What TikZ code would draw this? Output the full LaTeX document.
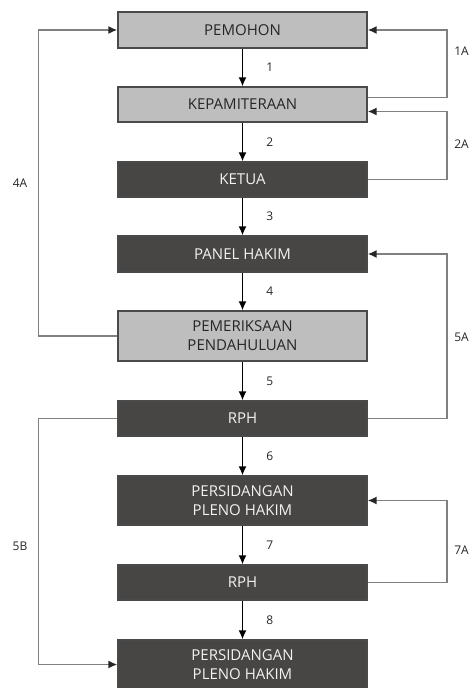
\documentclass[tikz,border=0pt]{standalone}
\usepackage{fontspec}
\setmainfont{Open Sans}
\usepackage{xcolor}
\usetikzlibrary{arrows.meta,positioning}
\definecolor{boxlight}{HTML}{BEBEBE}
\definecolor{boxdark}{HTML}{484545}
\definecolor{boxedge}{HTML}{4A4A4A}
\definecolor{backline}{HTML}{808080}
\tikzset{
    stage/.style={draw=boxedge, line width=1.2pt, minimum width=249pt, align=center,
        inner sep=0pt, font=\fontsize{15}{19}\selectfont},
    light/.style={stage, fill=boxlight, text=black!85},
    dark/.style={stage, fill=boxdark, text=white!95!black},
    flow/.style={-{Latex[length=9pt,width=8pt]}, line width=1.6pt, black},
    back/.style={-{Latex[length=9pt,width=8pt,color=black!85]}, line width=1.8pt, backline},
    num/.style={right=23pt, inner sep=0pt, font=\fontsize{12}{14}\selectfont, text=black!85},
    tag/.style={inner sep=0pt, font=\fontsize{12}{14}\selectfont, text=black!85}
}
\begin{document}
\begin{tikzpicture}[x=1pt, y=-1pt]
                    \useasboundingbox (0,0) rectangle (470,688);

                    \node[light, minimum height=36pt] (pemohon) at (242.5, 30) {PEMOHON};
                    \node[light, minimum height=35pt] (kepan) at (242.5, 104.5) {KEPAMITERAAN};
                    \node[dark, minimum height=35pt] (ketua) at (242.5, 179.5) {KETUA};
                    \node[dark, minimum height=36pt] (panel) at (242.5, 254) {PANEL HAKIM};
                    \node[light, minimum height=50pt] (periksa) at (242.5, 336) {PEMERIKSAAN\\PENDAHULUAN};
                    \node[dark, minimum height=35pt] (rph) at (242.5, 418.5) {RPH};
                    \node[dark, minimum height=49pt] (sidang) at (242.5, 500.5) {PERSIDANGAN\\PLENO HAKIM};
                    \node[dark, minimum height=35pt] (rphdua) at (242.5, 582.5) {RPH};
                    \node[dark, minimum height=49pt] (sidangdua) at (242.5, 664.5) {PERSIDANGAN\\PLENO HAKIM};

                    \draw
                    (pemohon) edge[flow] node[num]{1} (kepan)
                    (kepan) edge[flow] node[num]{2} (ketua)
                    (ketua) edge[flow] node[num]{3} (panel)
                    (panel) edge[flow] node[num]{4} (periksa)
                    (periksa) edge[flow] node[num]{5} (rph)
                    (rph) edge[flow] node[num]{6} (sidang)
                    (sidang) edge[flow] node[num]{7} (rphdua)
                    (rphdua) edge[flow] node[num]{8} (sidangdua);

                    % return paths
                    \draw[back] ([yshift=7pt]kepan.east) -- ++(79,0) |- (pemohon.east);
                    \draw[back] (ketua.east) -- ++(79,0) |- ([yshift=-7pt]kepan.east);
                    \draw[back] (rph.east) -- ++(79,0) |- (panel.east);
                    \draw[back] (rphdua.east) -- ++(79,0) |- (sidang.east);
                    \draw[back] (periksa.west) -- ++(-79,0) |- (pemohon.west);
                    \draw[back] (rph.west) -- ++(-79,0) |- (sidangdua.west);

                    \node[tag, anchor=east] (t1a) at (469, 51) {1A};
                    \node[tag, anchor=east] (t2a) at (469, 144) {2A};
                    \node[tag, anchor=east] (t5a) at (469, 337) {5A};
                    \node[tag, anchor=east] (t7a) at (469, 550) {7A};
                    \node[tag] (t4a) at (20, 183) {4A};
                    \node[tag] (t5b) at (20, 546) {5B};
                \end{tikzpicture}
\end{document}
